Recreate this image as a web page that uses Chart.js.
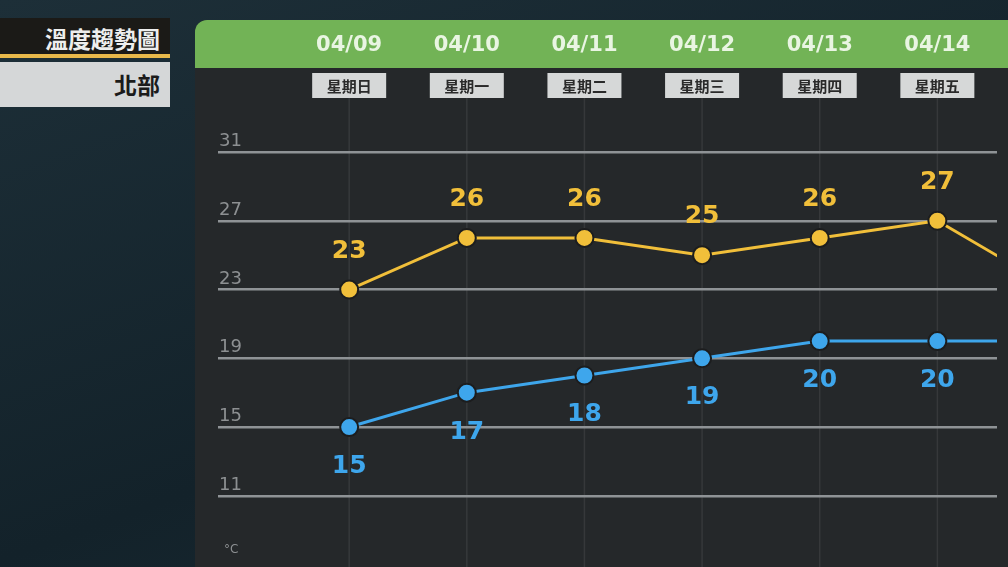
<!DOCTYPE html>
<html><head><meta charset="utf-8">
<script src="https://cdn.jsdelivr.net/npm/chart.js@4"></script>
<style>
body{margin:0;width:1008px;height:567px;overflow:hidden;background:linear-gradient(160deg,#1d2f38,#13222a 60%,#1a2c35);font-family:"Noto Sans CJK TC","Noto Sans",sans-serif}
#wrap{position:absolute;left:0;top:0;width:1008px;height:567px}
.t1{position:absolute;left:0;top:18px;width:170px;height:40px;background:#1b1a17;color:#eee;font-size:23px;font-weight:bold;text-align:right;box-sizing:border-box;padding-right:10px;line-height:40px;border-bottom:4px solid #e8b84a;z-index:2}
.t2{position:absolute;left:0;top:62px;width:170px;height:45px;background:#d5d7d8;color:#1b1b1b;font-size:23px;font-weight:bold;text-align:right;box-sizing:border-box;padding-right:10px;line-height:45px;z-index:2}
</style></head><body>
<div class="t1">溫度趨勢圖</div>
<div class="t2">北部</div>
<div id="wrap"><canvas id="c" width="1008" height="567"></canvas></div>
<script>
const dates = ['04/09','04/10','04/11','04/12','04/13','04/14','04/15'];
const weekdays = ['星期日','星期一','星期二','星期三','星期四','星期五','星期六'];
const highs = [23,26,26,25,26,27,23];
const lows = [15,17,18,19,20,20,20];
const yTicks = [11,15,19,23,27,31];

const panel = {
  id:'panel',
  beforeDraw(chart){
    const {ctx, scales:{x}} = chart;
    ctx.save();
    ctx.fillStyle='#25282a';
    ctx.beginPath(); ctx.roundRect(195,20,830,560,12); ctx.fill();
    ctx.fillStyle='#72b356';
    ctx.beginPath(); ctx.roundRect(195,20,830,48,[12,12,0,0]); ctx.fill();
    ctx.textAlign='center'; ctx.textBaseline='middle';
    dates.forEach((d,i)=>{
      const px = x.getPixelForValue(i);
      ctx.strokeStyle='rgba(255,255,255,0.08)'; ctx.lineWidth=1.5;
      ctx.beginPath(); ctx.moveTo(px,98); ctx.lineTo(px,567); ctx.stroke();
      ctx.fillStyle='#e9f5e2'; ctx.font='bold 21px "DejaVu Sans"';
      ctx.fillText(d,px,46);
      ctx.fillStyle='#d6d8d8'; ctx.fillRect(px-37,73,74,25);
      ctx.fillStyle='#2a2a2a'; ctx.font='bold 15px "Noto Sans CJK TC"';
      ctx.fillText(weekdays[i],px,86);
    });
    ctx.fillStyle='#8d9092'; ctx.font='18px "DejaVu Sans"'; ctx.textAlign='left'; ctx.textBaseline='alphabetic';
    yTicks.forEach(v=>ctx.fillText(v,219,chart.scales.y.getPixelForValue(v)-6));
    ctx.font='12px "DejaVu Sans"'; ctx.fillText('°C',224,553);
    ctx.restore();
  },
  afterDatasetsDraw(chart){
    const ctx=chart.ctx; ctx.save();
    ctx.textAlign='center'; ctx.font='bold 25px "DejaVu Sans"';
    chart.getDatasetMeta(0).data.forEach((p,i)=>{ctx.fillStyle='#f1bf3a'; ctx.fillText(highs[i],p.x,p.y-32);});
    chart.getDatasetMeta(1).data.forEach((p,i)=>{ctx.fillStyle='#3ea6ec'; ctx.fillText(lows[i],p.x,p.y+46);});
    ctx.restore();
  }
};

new Chart(document.getElementById('c'),{
  type:'line',
  data:{datasets:[
    {data:highs.map((v,i)=>({x:i,y:v})),borderColor:'#f1bf3a',backgroundColor:'#f1bf3a',pointBorderColor:'#1c1d1e',borderWidth:3,pointRadius:9,pointBorderWidth:2},
    {data:lows.map((v,i)=>({x:i,y:v})),borderColor:'#3ea6ec',backgroundColor:'#3ea6ec',pointBorderColor:'#1c1d1e',borderWidth:3,pointRadius:9,pointBorderWidth:2}
  ]},
  options:{
    responsive:false,animation:false,devicePixelRatio:1,
    layout:{padding:{left:218,top:152,right:0,bottom:4}},
    plugins:{legend:{display:false},tooltip:{enabled:false}},
    scales:{
      x:{type:'linear',min:-1.115,max:5.507,display:false},
      y:{min:7.5,max:31,afterBuildTicks:s=>{s.ticks=yTicks.map(v=>({value:v}));},
        ticks:{display:false},border:{display:false},
        grid:{color:'#8f9396',lineWidth:2.5,drawTicks:false}}
    }
  },
  plugins:[panel]
});
</script>
</body></html>
